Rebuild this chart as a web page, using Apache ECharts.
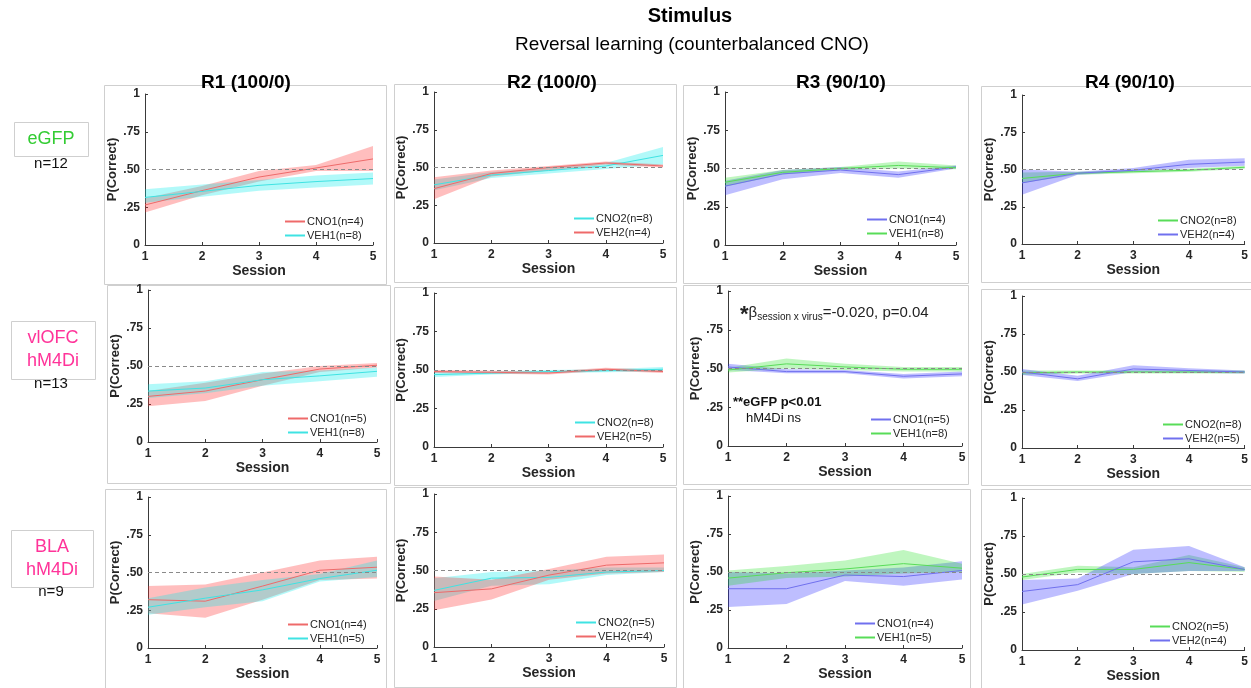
<!DOCTYPE html>
<html><head><meta charset="utf-8">
<script src="https://cdn.jsdelivr.net/npm/echarts@6/dist/echarts.min.js"></script>
<style>html,body{margin:0;padding:0;background:#fff}#c{width:1251px;height:688px}</style>
</head><body><div id="c"></div>
<script>
// ---------------- DATA ----------------
const sessions = [1, 2, 3, 4, 5];
const yTicks = [0, 0.25, 0.5, 0.75, 1];
const columnTitles = ['R1 (100/0)', 'R2 (100/0)', 'R3 (90/10)', 'R4 (90/10)'];
const rowGroups = ['eGFP', 'vlOFC\nhM4Di', 'BLA\nhM4Di'];
const rowN = ['n=12', 'n=13', 'n=9'];

// eGFP row
const eGFP_R1_CNO1 = {mean:[0.265,0.36,0.45,0.51,0.57], lo:[0.215,0.33,0.42,0.49,0.49], hi:[0.31,0.39,0.49,0.53,0.655]};
const eGFP_R1_VEH1 = {mean:[0.315,0.355,0.395,0.42,0.44], lo:[0.28,0.32,0.36,0.38,0.40], hi:[0.37,0.40,0.43,0.46,0.48]};
const eGFP_R2_CNO2 = {mean:[0.385,0.45,0.48,0.51,0.58], lo:[0.35,0.43,0.46,0.49,0.52], hi:[0.42,0.47,0.50,0.53,0.635]};
const eGFP_R2_VEH2 = {mean:[0.36,0.46,0.50,0.53,0.51], lo:[0.29,0.44,0.48,0.52,0.50], hi:[0.435,0.48,0.51,0.54,0.52]};
const eGFP_R3_CNO1 = {mean:[0.385,0.465,0.49,0.46,0.51], lo:[0.325,0.43,0.47,0.44,0.50], hi:[0.42,0.49,0.51,0.48,0.52]};
const eGFP_R3_VEH1 = {mean:[0.41,0.475,0.50,0.52,0.505], lo:[0.38,0.46,0.49,0.50,0.495], hi:[0.44,0.49,0.51,0.545,0.52]};
const eGFP_R4_CNO2 = {mean:[0.44,0.475,0.485,0.495,0.515], lo:[0.41,0.465,0.475,0.485,0.505], hi:[0.48,0.485,0.495,0.505,0.525]};
const eGFP_R4_VEH2 = {mean:[0.41,0.475,0.495,0.535,0.55], lo:[0.33,0.465,0.485,0.51,0.525], hi:[0.50,0.485,0.51,0.565,0.575]};
// vlOFC hM4Di row
const vlOFC_R1_CNO1 = {mean:[0.30,0.335,0.41,0.48,0.505], lo:[0.235,0.27,0.37,0.46,0.49], hi:[0.335,0.39,0.45,0.50,0.52]};
const vlOFC_R1_VEH1 = {mean:[0.335,0.355,0.41,0.435,0.465], lo:[0.29,0.32,0.37,0.40,0.43], hi:[0.38,0.40,0.46,0.47,0.49]};
const vlOFC_R2_CNO2 = {mean:[0.47,0.48,0.49,0.495,0.505], lo:[0.455,0.47,0.48,0.485,0.49], hi:[0.49,0.49,0.50,0.505,0.52]};
const vlOFC_R2_VEH2 = {mean:[0.49,0.485,0.48,0.505,0.49], lo:[0.48,0.475,0.47,0.495,0.48], hi:[0.50,0.495,0.49,0.515,0.50]};
const vlOFC_R3_CNO1 = {mean:[0.51,0.48,0.48,0.45,0.465], lo:[0.49,0.47,0.47,0.435,0.45], hi:[0.53,0.495,0.49,0.465,0.48]};
const vlOFC_R3_VEH1 = {mean:[0.49,0.53,0.51,0.495,0.495], lo:[0.475,0.50,0.49,0.48,0.48], hi:[0.505,0.565,0.53,0.51,0.51]};
const vlOFC_R4_CNO2 = {mean:[0.495,0.50,0.50,0.50,0.50], lo:[0.48,0.49,0.49,0.49,0.49], hi:[0.51,0.51,0.51,0.51,0.51]};
const vlOFC_R4_VEH2 = {mean:[0.50,0.455,0.52,0.51,0.50], lo:[0.48,0.44,0.50,0.495,0.49], hi:[0.52,0.475,0.545,0.525,0.51]};
// BLA hM4Di row
const BLA_R1_CNO1 = {mean:[0.32,0.31,0.41,0.515,0.535], lo:[0.23,0.20,0.32,0.45,0.46], hi:[0.41,0.42,0.50,0.58,0.605]};
const BLA_R1_VEH1 = {mean:[0.27,0.33,0.385,0.46,0.515], lo:[0.22,0.27,0.31,0.44,0.47], hi:[0.33,0.40,0.45,0.49,0.58]};
const BLA_R2_CNO2 = {mean:[0.37,0.45,0.455,0.49,0.50], lo:[0.30,0.40,0.41,0.47,0.49], hi:[0.45,0.49,0.50,0.52,0.52]};
const BLA_R2_VEH2 = {mean:[0.355,0.38,0.47,0.535,0.55], lo:[0.24,0.31,0.44,0.48,0.49], hi:[0.46,0.44,0.51,0.59,0.605]};
const BLA_R3_CNO1 = {mean:[0.39,0.39,0.48,0.47,0.51], lo:[0.27,0.29,0.44,0.41,0.45], hi:[0.50,0.49,0.51,0.53,0.57]};
const BLA_R3_VEH1 = {mean:[0.46,0.495,0.52,0.555,0.525], lo:[0.41,0.46,0.47,0.49,0.50], hi:[0.51,0.54,0.575,0.645,0.555]};
const BLA_R4_CNO2 = {mean:[0.48,0.53,0.53,0.575,0.53], lo:[0.46,0.51,0.50,0.52,0.515], hi:[0.50,0.555,0.545,0.625,0.545]};
const BLA_R4_VEH2 = {mean:[0.385,0.43,0.58,0.60,0.53], lo:[0.30,0.39,0.50,0.52,0.52], hi:[0.46,0.47,0.66,0.685,0.545]};

// legend labels
const legendLabels = [
  ['CNO1(n=4)','VEH1(n=8)'], ['CNO2(n=8)','VEH2(n=4)'], ['CNO1(n=4)','VEH1(n=8)'], ['CNO2(n=8)','VEH2(n=4)'],
  ['CNO1(n=5)','VEH1(n=8)'], ['CNO2(n=8)','VEH2(n=5)'], ['CNO1(n=5)','VEH1(n=8)'], ['CNO2(n=8)','VEH2(n=5)'],
  ['CNO1(n=4)','VEH1(n=5)'], ['CNO2(n=5)','VEH2(n=4)'], ['CNO1(n=4)','VEH1(n=5)'], ['CNO2(n=5)','VEH2(n=4)']
];
const panelSeries = [
  [eGFP_R1_CNO1, eGFP_R1_VEH1], [eGFP_R2_CNO2, eGFP_R2_VEH2], [eGFP_R3_CNO1, eGFP_R3_VEH1], [eGFP_R4_CNO2, eGFP_R4_VEH2],
  [vlOFC_R1_CNO1, vlOFC_R1_VEH1], [vlOFC_R2_CNO2, vlOFC_R2_VEH2], [vlOFC_R3_CNO1, vlOFC_R3_VEH1], [vlOFC_R4_CNO2, vlOFC_R4_VEH2],
  [BLA_R1_CNO1, BLA_R1_VEH1], [BLA_R2_CNO2, BLA_R2_VEH2], [BLA_R3_CNO1, BLA_R3_VEH1], [BLA_R4_CNO2, BLA_R4_VEH2]
];

// ---------------- STYLE / LAYOUT ----------------
const PAL = {
  red:   {line:'#ee6a6a', band:'rgba(255,40,40,0.30)'},
  cyan:  {line:'#3fe3e3', band:'rgba(0,235,235,0.30)'},
  blue:  {line:'#7070ee', band:'rgba(40,40,255,0.30)'},
  green: {line:'#58dc58', band:'rgba(20,220,20,0.27)'}
};
const colColors = [['red','cyan'], ['cyan','red'], ['blue','green'], ['green','blue']];

const layout = [
  {grid:[145,94,228,151], box:[104,85,282,199], leg:[285,215]},
  {grid:[434,92,229,151], box:[394,84,282,198], leg:[574,212]},
  {grid:[725,92,231,153], box:[683,85,285,198], leg:[867,213]},
  {grid:[1022,95,223,149], box:[981,86,275,196], leg:[1158,214]},
  {grid:[148,290,229,152], box:[107,285,283,198], leg:[288,412]},
  {grid:[434,293,229,154], box:[394,287,282,198], leg:[575,416]},
  {grid:[728,291,234,155], box:[683,285,285,199], leg:[871,413]},
  {grid:[1022,296,227,152], box:[981,289,275,196], leg:[1163,418]},
  {grid:[148,497,229,151], box:[105,489,281,200], leg:[288,618]},
  {grid:[434,494,230,153], box:[394,487,282,200], leg:[576,616]},
  {grid:[728,496,234,152], box:[683,489,287,200], leg:[855,617]},
  {grid:[1022,498,225,152], box:[981,489,275,200], leg:[1150,620]}
];

const FONT = 'Arial, "Liberation Sans", sans-serif';
const grids = [], xAxes = [], yAxes = [], series = [], legends = [], graphics = [];

// band polygon drawn through the library's coordinate system
function bandRenderer(rows, color) {
  return function (params, api) {
    if (params.dataIndex !== 0) return null;
    const upper = rows.map(r => api.coord([r[0], r[2]]));
    const lower = rows.map(r => api.coord([r[0], r[1]])).reverse();
    return {type:'polygon', shape:{points: upper.concat(lower)}, style:{fill:color}, silent:true};
  };
}

layout.forEach((L, i) => {
  const col = i % 4;
  grids.push({left:L.grid[0], top:L.grid[1], width:L.grid[2], height:L.grid[3]});
  const axisCommon = {
    gridIndex:i, type:'value',
    axisLine:{show:true, onZero:false, lineStyle:{color:'#3a3a3a', width:1}},
    axisTick:{show:true, inside:true, length:3, lineStyle:{color:'#3a3a3a'}},
    splitLine:{show:false},
    nameLocation:'middle',
  };
  xAxes.push(Object.assign({}, axisCommon, {
    min:1, max:5, interval:1, name:'Session', nameGap:19,
    nameTextStyle:{fontFamily:FONT, fontWeight:'bold', fontSize:14, color:'#262626'},
    axisLabel:{fontFamily:FONT, fontWeight:'bold', fontSize:12, color:'#262626', margin:6}
  }));
  yAxes.push(Object.assign({}, axisCommon, {
    min:0, max:1, interval:0.25, name:'P(Correct)', nameGap:25,
    nameTextStyle:{fontFamily:FONT, fontWeight:'bold', fontSize:13, color:'#262626'},
    axisLabel:{fontFamily:FONT, fontWeight:'bold', fontSize:12, color:'#262626', margin:5,
      formatter: v => (v === 0 ? '0' : v === 1 ? '1' : '.' + String(Math.round(v*100)).padStart(2,'0'))}
  }));

  const legendData = [];
  panelSeries[i].forEach((d, k) => {
    const c = PAL[colColors[col][k]];
    const rows = sessions.map((s, j) => [s, d.lo[j], d.hi[j]]);
    series.push({
      type:'custom', xAxisIndex:i, yAxisIndex:i, silent:true, z:1, clip:true,
      data: rows, encode:{x:0, y:[1,2]},
      renderItem: bandRenderer(rows, c.band)
    });
    const nm = 'p' + i + '|' + legendLabels[i][k];
    legendData.push({name:nm, icon:'rect', itemStyle:{color:c.line}});
    series.push({
      name:nm, type:'line', xAxisIndex:i, yAxisIndex:i, symbol:'none', showSymbol:false, z:3,
      lineStyle:{color:c.line, width:1}, itemStyle:{color:c.line},
      data: sessions.map((s, j) => [s, d.mean[j]])
    });
  });
  series.push({
    type:'line', xAxisIndex:i, yAxisIndex:i, data:[], z:4, silent:true,
    markLine:{silent:true, symbol:'none', label:{show:false}, animation:false,
      lineStyle:{type:[4,3], color:'#8a8a8a', width:1}, data:[{yAxis:0.5}]}
  });
  legends.push({
    left:L.leg[0], top:L.leg[1], orient:'vertical', itemWidth:20, itemHeight:2, itemGap:1, padding:0,
    selectedMode:false, data:legendData,
    formatter: n => n.split('|')[1],
    textStyle:{fontFamily:FONT, fontSize:11, color:'#262626', padding:[0,0,0,-3], lineHeight:13}
  });
  graphics.push({type:'rect', silent:true, z:-10,
    shape:{x:L.box[0]+0.5, y:L.box[1]+0.5, width:L.box[2], height:L.box[3]},
    style:{fill:'none', stroke:'#cfcfcf', lineWidth:1}});
});

// titles
graphics.push({type:'text', x:690, y:16, style:{text:'Stimulus', font:'bold 20px '+FONT, fill:'#000', align:'center', verticalAlign:'middle'}, z:10});
graphics.push({type:'text', x:692, y:45, style:{text:'Reversal learning (counterbalanced CNO)', font:'19px '+FONT, fill:'#000', align:'center', verticalAlign:'middle'}, z:10});
const colX = [246, 552, 841, 1130];
columnTitles.forEach((t, i) => graphics.push({type:'text', x:colX[i], y:83, z:10,
  style:{text:t, font:'bold 19px '+FONT, fill:'#000', align:'center', verticalAlign:'middle'}}));

// row labels
const rowBoxes = [[14,122,74,34], [11,321,84,58], [11,530,82,57]];
const rowColors = ['#33cc33', '#ff3399', '#ff3399'];
const rowTextY = [139, 350, 559];
const rowNY = [164, 384, 592];
rowGroups.forEach((g, i) => {
  const b = rowBoxes[i];
  graphics.push({type:'rect', z:5, shape:{x:b[0]+0.5, y:b[1]+0.5, width:b[2], height:b[3]}, style:{fill:'#fff', stroke:'#cfcfcf', lineWidth:1}});
  graphics.push({type:'text', z:6, x:b[0]+b[2]/2, y:rowTextY[i], style:{text:g, font:'18px '+FONT, fill:rowColors[i], align:'center', verticalAlign:'middle', lineHeight:23}});
  graphics.push({type:'text', z:6, x:51, y:rowNY[i], style:{text:rowN[i], font:'15px '+FONT, fill:'#111', align:'center', verticalAlign:'middle'}});
});

// statistics annotation
graphics.push({type:'text', z:10, x:740, y:313, style:{
  text:'{s|*}{b|β}{sub|session x virus}{b|=-0.020, p=0.04}', verticalAlign:'middle',
  rich:{
    s:{font:'bold 22px '+FONT, fill:'#222', padding:[4,0,0,0]},
    b:{font:'15px '+FONT, fill:'#222'},
    sub:{font:'10px '+FONT, fill:'#222', padding:[8,0,0,0]}
  }}});
graphics.push({type:'text', z:10, x:733, y:402, style:{text:'**eGFP p<0.01', font:'bold 13px '+FONT, fill:'#111', verticalAlign:'middle'}});
graphics.push({type:'text', z:10, x:746, y:418, style:{text:'hM4Di ns', font:'13px '+FONT, fill:'#111', verticalAlign:'middle'}});

const chart = echarts.init(document.getElementById('c'), null, {renderer:'canvas'});
chart.setOption({
  animation:false,
  backgroundColor:'#fff',
  grid:grids, xAxis:xAxes, yAxis:yAxes, series, legend:legends, graphic:graphics
});
</script></body></html>
